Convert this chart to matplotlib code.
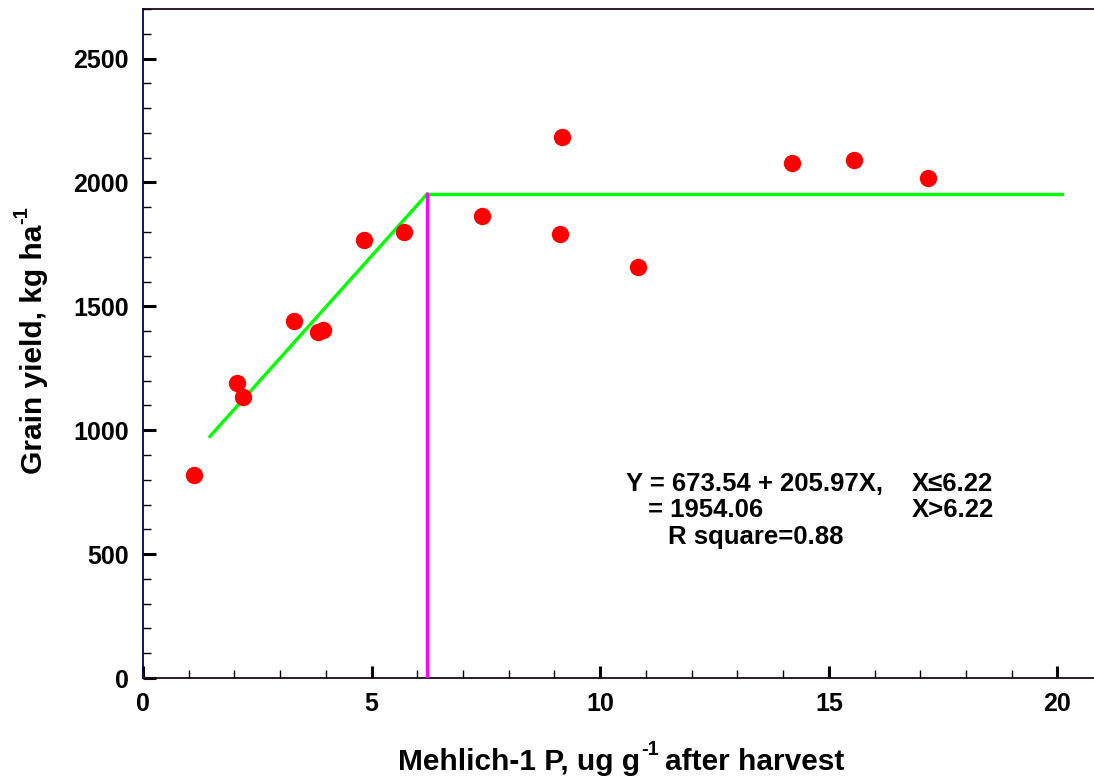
import matplotlib
matplotlib.use("Agg")
import matplotlib.pyplot as plt
from matplotlib.ticker import MultipleLocator
from matplotlib.transforms import IdentityTransform
import numpy as np

plt.rcParams['font.family'] = ['Liberation Sans', 'DejaVu Sans']
plt.rcParams['font.weight'] = 'bold'

# Observed data
p_after = [1.11, 2.05, 2.19, 3.30, 3.83, 3.93, 4.83, 5.70, 7.41, 9.11, 9.16, 10.82, 14.19, 15.56, 17.16]
yield_kg = [818, 1190, 1133, 1440, 1395, 1403, 1766, 1798, 1863, 1790, 2185, 1657, 2077, 2089, 2016]

# Linear-plateau model
intercept = 673.54
slope = 205.97
join_x = 6.22
plateau = 1954.06
line_start = 1.46
line_end = 20.1

x_ticks = [0, 5, 10, 15, 20]
y_ticks = [0, 500, 1000, 1500, 2000, 2500]

W, H = 1094, 782
fig = plt.figure(figsize=(W / 100, H / 100), dpi=100)
ax = fig.add_axes([143 / W, 1 - 678 / H, 1 - 143 / W, (678 - 9) / H])

# fitted lines
xs = np.array([line_start, join_x])
ax.plot(xs, intercept + slope * xs, color='#00ff00', lw=2.4, solid_capstyle='round', zorder=3)
ax.plot([join_x, line_end], [plateau, plateau], color='#00ff00', lw=2.4, zorder=3)
ax.plot([join_x, join_x], [0, plateau], color='#ff00ff', lw=2.4, zorder=3)

ax.plot(p_after, yield_kg, 'o', color='#ff0000', markersize=12.5, markeredgewidth=0, zorder=4)

ax.set_xlim(0, 20.8)
ax.set_ylim(0, 2700)
ax.xaxis.set_minor_locator(MultipleLocator(1))
ax.yaxis.set_minor_locator(MultipleLocator(100))
ax.set_xticks(x_ticks)
ax.set_yticks(y_ticks)

ax.spines['right'].set_visible(False)
ax.spines['left'].set_color('#000060')
ax.spines['top'].set_color('#1a0a1a')
ax.spines['bottom'].set_color('#1a0a1a')
for s in ['left', 'top', 'bottom']:
    ax.spines[s].set_linewidth(1.3)

ax.tick_params(axis='both', which='major', direction='in', length=9, width=2.2, labelsize=18, pad=10)
ax.tick_params(axis='both', which='minor', direction='in', length=5.5, width=1.0)
ax.tick_params(axis='x', which='both', top=False)
ax.tick_params(axis='y', which='both', right=False)
for lab in ax.get_xticklabels() + ax.get_yticklabels():
    lab.set_fontweight('bold')

ident = IdentityTransform()


def px(x, y_top):
    return x, H - y_top


# annotation text (pixel positions from top-left)
ann = [
    ('Y = 673.54 + 205.97X,', 626, 484),
    ('X\u22646.22', 912, 484),
    ('= 1954.06', 648, 510),
    ('X>6.22', 912, 510),
    ('R square=0.88', 668, 537),
]
for s, x, y in ann:
    fig.text(*px(x, y), s, transform=ident, fontsize=18.5, fontweight='bold', va='center', ha='left')

# axis labels with small superscripts, laid out piecewise
fig.canvas.draw()
renderer = fig.canvas.get_renderer()

# x label
x_parts = [('Mehlich-1 P, ug g', 21.5, 0), ('-1', 14.5, 15), ('after harvest', 21.5, 0)]
gaps = [1, 6, 0]
texts = []
for s, fs, dy in x_parts:
    t = fig.text(0, 0, s, transform=ident, fontsize=fs, fontweight='bold', ha='left', va='baseline')
    texts.append(t)
widths = [t.get_window_extent(renderer).width for t in texts]
total = sum(widths) + sum(gaps[:-1])
x0 = 621 - total / 2
base = H - 770
for t, w, g, (s, fs, dy) in zip(texts, widths, gaps, x_parts):
    t.set_position((x0, base + dy))
    x0 += w + g

# y label (rotated)
y_parts = [('Grain yield, kg ha', 21.5, 0), ('-1', 14.5, 15)]
ytexts = []
for s, fs, dy in y_parts:
    t = fig.text(0, 0, s, transform=ident, fontsize=fs, fontweight='bold', ha='left', va='baseline',
                 rotation=90, rotation_mode='anchor')
    ytexts.append(t)
heights = [t.get_window_extent(renderer).height for t in ytexts]
y0 = H - 474
base_x = 42
for t, h, (s, fs, dy) in zip(ytexts, heights, y_parts):
    t.set_position((base_x - dy, y0))
    y0 += h + 1

fig.savefig('out.png', dpi=100)
